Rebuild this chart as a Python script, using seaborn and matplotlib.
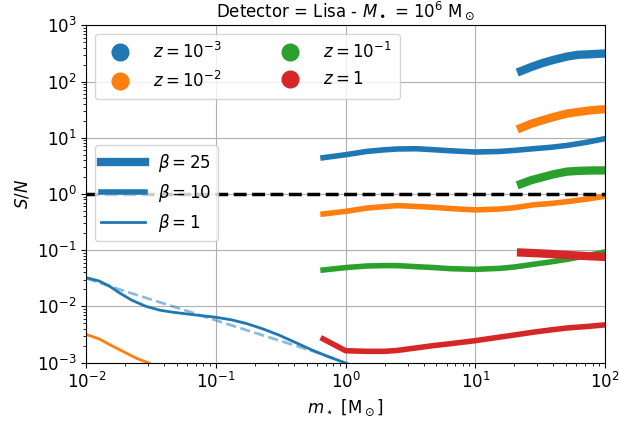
import matplotlib
matplotlib.use('Agg')
import matplotlib.pyplot as plt
import seaborn as sns
from matplotlib.lines import Line2D

plt.rcParams.update({'font.size': 12, 'axes.titlesize': 12, 'axes.labelsize': 12,
                     'xtick.labelsize': 12, 'ytick.labelsize': 12, 'legend.fontsize': 12})

# redshift colours / labels
z_labels = [r'$z=10^{-3}$', r'$z=10^{-2}$', r'$z=10^{-1}$', r'$z=1$']
z_colors = ['#1f77b4', '#ff7f0e', '#2ca02c', '#d62728']

# beta = 25 (only high stellar masses)
m_b25 = [22.5, 27, 33, 40, 51, 62, 75, 86, 100]
sn_b25 = [
    [154, 182, 214, 243, 279, 300, 305, 311, 316],
    [15.0, 17.8, 20.5, 23.4, 27.0, 28.8, 30.5, 31.5, 32.2],
    [1.51, 1.76, 1.99, 2.24, 2.50, 2.57, 2.61, 2.62, 2.63],
    [0.0906, 0.089, 0.087, 0.085, 0.082, 0.080, 0.078, 0.077, 0.0755],
]

# beta = 10
m_b10 = [0.67, 1.0, 1.45, 2.0, 2.5, 3.5, 4.75, 6.4, 10, 15.5, 20, 28, 38, 51, 72, 100]
sn_b10 = [
    [4.41, 4.99, 5.71, 6.10, 6.31, 6.38, 6.12, 5.87, 5.57, 5.71, 5.96, 6.38, 6.76, 7.31, 8.30, 9.64],
    [0.44, 0.49, 0.56, 0.596, 0.62, 0.60, 0.578, 0.55, 0.52, 0.54, 0.569, 0.64, 0.676, 0.73, 0.81, 0.91],
    [0.0443, 0.0489, 0.0522, 0.0531, 0.053, 0.0508, 0.049, 0.0468, 0.0455, 0.0474, 0.0501,
     0.056, 0.0617, 0.0687, 0.0794, 0.093],
    [0.00263, 0.00162, 0.00158, 0.00158, 0.00164, 0.00182, 0.0020, 0.00216, 0.00245, 0.00284,
     0.00309, 0.00347, 0.0038, 0.00412, 0.00437, 0.00468],
]

# beta = 1 (low masses)
m_b1_blue = [0.01, 0.0126, 0.0151, 0.018, 0.0224, 0.0288, 0.0372, 0.0465, 0.0676, 0.1,
             0.132, 0.174, 0.229, 0.305, 0.407, 0.553, 0.741, 1.0, 1.12]
sn_b1_blue = [0.0324, 0.0282, 0.0229, 0.0174, 0.0129, 0.0100, 0.00851, 0.00785, 0.00708, 0.00638,
              0.00575, 0.0049, 0.00398, 0.00309, 0.00229, 0.00166, 0.00126, 0.00098, 0.00089]
m_b1_orange = [0.01, 0.0126, 0.0151, 0.018, 0.0242, 0.0297, 0.035]
sn_b1_orange = [0.00316, 0.00263, 0.00209, 0.0017, 0.0012, 0.001, 0.00083]

# faint dashed reference curve
m_dash = [0.01, 0.018, 0.0525, 0.1, 0.31, 0.546, 0.83]
sn_dash = [0.0316, 0.020, 0.00912, 0.00562, 0.00245, 0.00162, 0.00117]

betas = [25, 10, 1]
beta_lw = [6, 4, 2]

fig = plt.figure(figsize=(6.2, 4.23), dpi=100)
ax = fig.add_axes([0.139, 0.143, 0.837, 0.797])

for i, c in enumerate(z_colors):
    sns.lineplot(x=m_b25, y=sn_b25[i], ax=ax, color=c, lw=beta_lw[0], estimator=None, legend=False)
    sns.lineplot(x=m_b10, y=sn_b10[i], ax=ax, color=c, lw=beta_lw[1], estimator=None, legend=False)

sns.lineplot(x=m_b1_blue, y=sn_b1_blue, ax=ax, color=z_colors[0], lw=beta_lw[2], estimator=None, legend=False)
sns.lineplot(x=m_b1_orange, y=sn_b1_orange, ax=ax, color=z_colors[1], lw=beta_lw[2], estimator=None, legend=False)
sns.lineplot(x=m_dash, y=sn_dash, ax=ax, color=z_colors[0], lw=2, ls='--', alpha=0.5,
             estimator=None, legend=False)

ax.axhline(1, color='k', ls='--', lw=2.5)

ax.set_xscale('log')
ax.set_yscale('log')
ax.set_xlim(1e-2, 1e2)
ax.set_ylim(1e-3, 1e3)
ax.grid(True, which='major', color='#b0b0b0', lw=0.8)
ax.set_xlabel(r'$m_\star$ [M$_\odot$]')
ax.set_ylabel(r'$S/N$')
ax.set_title(r'Detector = Lisa - $M_\bullet$ = $10^6$ M$_\odot$')

z_handles = [Line2D([], [], marker='o', ls='', color=c, markersize=12) for c in z_colors]
leg1 = ax.legend(z_handles, z_labels, ncol=2, loc='upper left', columnspacing=3.1,
                 handletextpad=1.0, borderpad=0.5)
ax.add_artist(leg1)

b_handles = [Line2D([], [], color=z_colors[0], lw=w) for w in beta_lw]
b_labels = [rf'$\beta={b}$' for b in betas]
ax.legend(b_handles, b_labels, loc='upper left', bbox_to_anchor=(0.0, 0.67), handlelength=2.6)

fig.savefig('out.png', dpi=100)
